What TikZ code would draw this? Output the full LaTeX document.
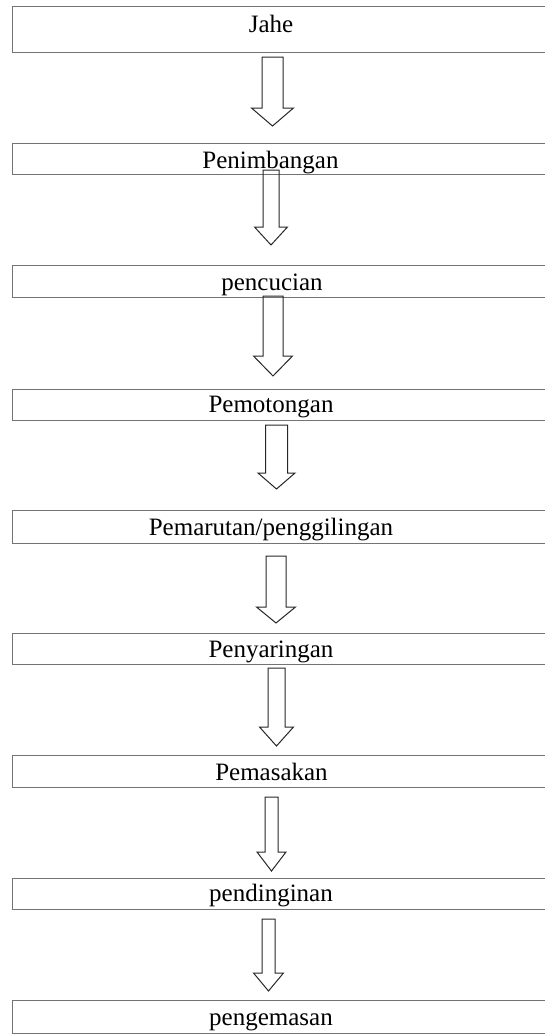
\documentclass[tikz,border=0pt]{standalone}
\usepackage{fontspec}
\setmainfont{Liberation Serif}
\usepackage{tikz}
\usetikzlibrary{positioning}
\tikzset{
  every picture/.style = {line join=miter},
  stage/.style = {
    draw=black!55,
    line width=1pt,
    minimum width=536.5pt,
    inner sep=0pt,
    anchor=north west
  },
  stage text/.style = {
    font=\fontsize{25}{30}\selectfont,
    text=black,
    inner sep=0pt,
    anchor=base
  },
  block arrow/.style = {draw=black!85, line width=1pt},
}
% cx, top, shaft end, tip, shaft half width, head half width
\newcommand{\DownArrow}[6]{%
  \draw[block arrow] (#1-#5,#2) -- (#1+#5,#2) -- (#1+#5,#3) -- (#1+#6,#3)
    -- (#1,#4) -- (#1-#6,#3) -- (#1-#5,#3) -- cycle;
}
\begin{document}
\begin{tikzpicture}[x=1pt,y=-1pt]
  \useasboundingbox (0,0) rectangle (545,1036);

  \node[stage, minimum height=46pt] (jahe) at (11.5,6) {};
  \node[stage, minimum height=31pt] (timbang) at (11.5,143) {};
  \node[stage, minimum height=32pt] (cuci) at (11.5,265) {};
  \node[stage, minimum height=31pt] (potong) at (11.5,389) {};
  \node[stage, minimum height=33pt] (parut) at (11.5,510) {};
  \node[stage, minimum height=31pt] (saring) at (11.5,633) {};
  \node[stage, minimum height=32pt] (masak) at (11.5,755) {};
  \node[stage, minimum height=31pt] (dingin) at (11.5,878) {};
  \node[stage, minimum height=33pt] (kemas) at (11.5,1000) {};

  \node[stage text] (jahe-t) at (271,32) {Jahe};
  \node[stage text] (timbang-t) at (270.5,168) {Penimbangan};
  \node[stage text] (cuci-t) at (272,290) {pencucian};
  \node[stage text] (potong-t) at (271,412.5) {Pemotongan};
  \node[stage text] (parut-t) at (271,535) {Pemarutan/penggilingan};
  \node[stage text] (saring-t) at (271,657) {Penyaringan};
  \node[stage text] (masak-t) at (271.5,780) {Pemasakan};
  \node[stage text] (dingin-t) at (271,901.5) {pendinginan};
  \node[stage text] (kemas-t) at (271,1025) {pengemasan};

  \DownArrow{272.5}{57}{108}{126}{10.5}{21}
  \DownArrow{271}{170}{227}{245}{8}{16.5}
  \DownArrow{273}{296}{356}{376}{10}{19.5}
  \DownArrow{276.5}{425}{473}{489}{11}{18.5}
  \DownArrow{276}{556}{607}{623}{10}{19.5}
  \DownArrow{276.5}{668}{727}{746}{8.5}{17}
  \DownArrow{271.5}{797}{852}{871}{6.5}{14.5}
  \DownArrow{268.5}{919}{973}{991}{6.5}{15}
\end{tikzpicture}
\end{document}
